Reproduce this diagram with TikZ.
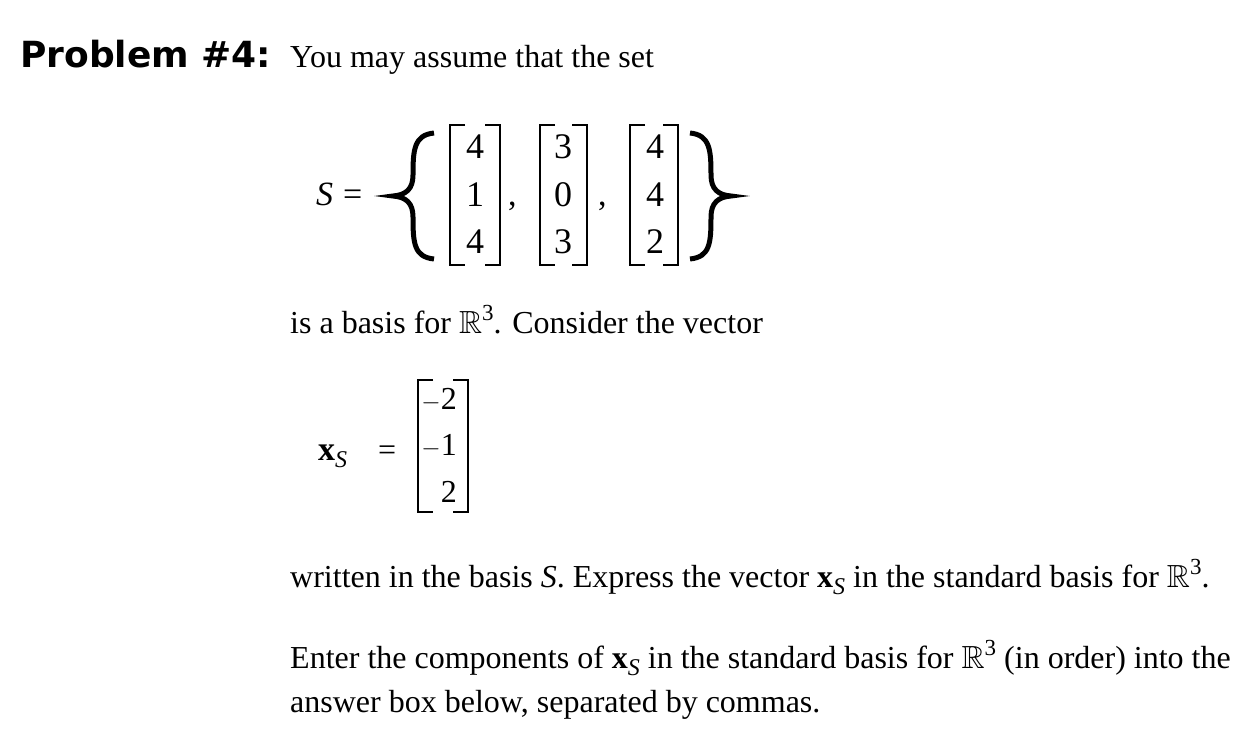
\documentclass[tikz,border=0pt]{standalone}
\usepackage{amssymb}
\usepackage{fontspec}
\setmainfont{Liberation Serif}
\newfontfamily\headfont{DejaVu Sans}
\newcommand{\RR}{$\mathbb{R}$\raisebox{13pt}{\fontsize{23}{23}\selectfont 3}}
\newcommand{\xS}{\textbf{x}\raisebox{-7pt}{\fontsize{24}{24}\selectfont\textit{S}}}
\tikzset{txt/.style={anchor=base west,inner sep=0pt,font=\fontsize{32}{38}\selectfont},
ent/.style={inner sep=0pt,font=\fontsize{36}{36}\selectfont},
brk/.style={line width=2.5pt},
brace/.style={line width=5pt}}
\begin{document}
\begin{tikzpicture}[x=1pt,y=-1pt]
\useasboundingbox (0,0) rectangle (1256,738);
\node[txt,font=\headfont\bfseries\fontsize{36}{40}\selectfont] (h) at (20,68) {Problem \#4:};
\node[txt] (l1) at (290,68) {You may assume that the set};
\node[txt,font=\fontsize{34}{34}\selectfont] (s) at (316,206) {\textit{S}};
\node[txt,font=\fontsize{34}{34}\selectfont] (eq) at (343,206) {=};
\draw[brace] (434,133) .. controls (414,135) and (413,150) .. (413,175) .. controls (413,189) and (406,195) .. (393,196) .. controls (406,197) and (413,203) .. (413,217) .. controls (413,243) and (414,257) .. (434,259);
\draw[brace] (690,133) .. controls (710,135) and (711,150) .. (711,175) .. controls (711,189) and (718,195) .. (731,196) .. controls (718,197) and (711,203) .. (711,217) .. controls (711,243) and (710,257) .. (690,259);
\foreach \l/\r/\c/\a/\b/\d [count=\i] in {450/500/475/4/1/4, 540/587/563/3/0/3, 630/678/655/4/4/2}{
  \draw[brk] (\l+15,125) -- (\l,125) -- (\l,265) -- (\l+15,265);
  \draw[brk] (\r-15,125) -- (\r,125) -- (\r,265) -- (\r-15,265);
  \node[ent] (m\i a) at (\c,147) {\a};
  \node[ent] (m\i b) at (\c,195) {\b};
  \node[ent] (m\i c) at (\c,242) {\d};
}
\node[txt,font=\fontsize{34}{34}\selectfont] (c1) at (508,206) {,};
\node[txt,font=\fontsize{34}{34}\selectfont] (c2) at (598,206) {,};
\node[txt] (l2) at (290,333) {is a basis for \RR. Consider the vector};
\node[txt,font=\fontsize{34}{34}\selectfont] (xs) at (318,460) {\xS};
\node[txt,font=\fontsize{32}{34}\selectfont] (eq2) at (378,460) {=};
\draw[brk] (433,380) -- (418,380) -- (418,512) -- (433,512);
\draw[brk] (453,380) -- (468,380) -- (468,512) -- (453,512);
\node[ent,font=\fontsize{32}{32}\selectfont,anchor=east] (v1) at (457,400) {$-$2};
\node[ent,font=\fontsize{32}{32}\selectfont,anchor=east] (v2) at (457,446) {$-$1};
\node[ent,font=\fontsize{32}{32}\selectfont,anchor=east] (v3) at (457,492) {2};
\node[txt] (l3) at (290,587) {written in the basis \textit{S}. Express the vector \xS\ in the standard basis for \RR.};
\node[txt] (l4) at (290,668) {Enter the components of \xS\ in the standard basis for \RR\ (in order) into the};
\node[txt] (l5) at (290,712) {answer box below, separated by commas.};
\end{tikzpicture}
\end{document}
